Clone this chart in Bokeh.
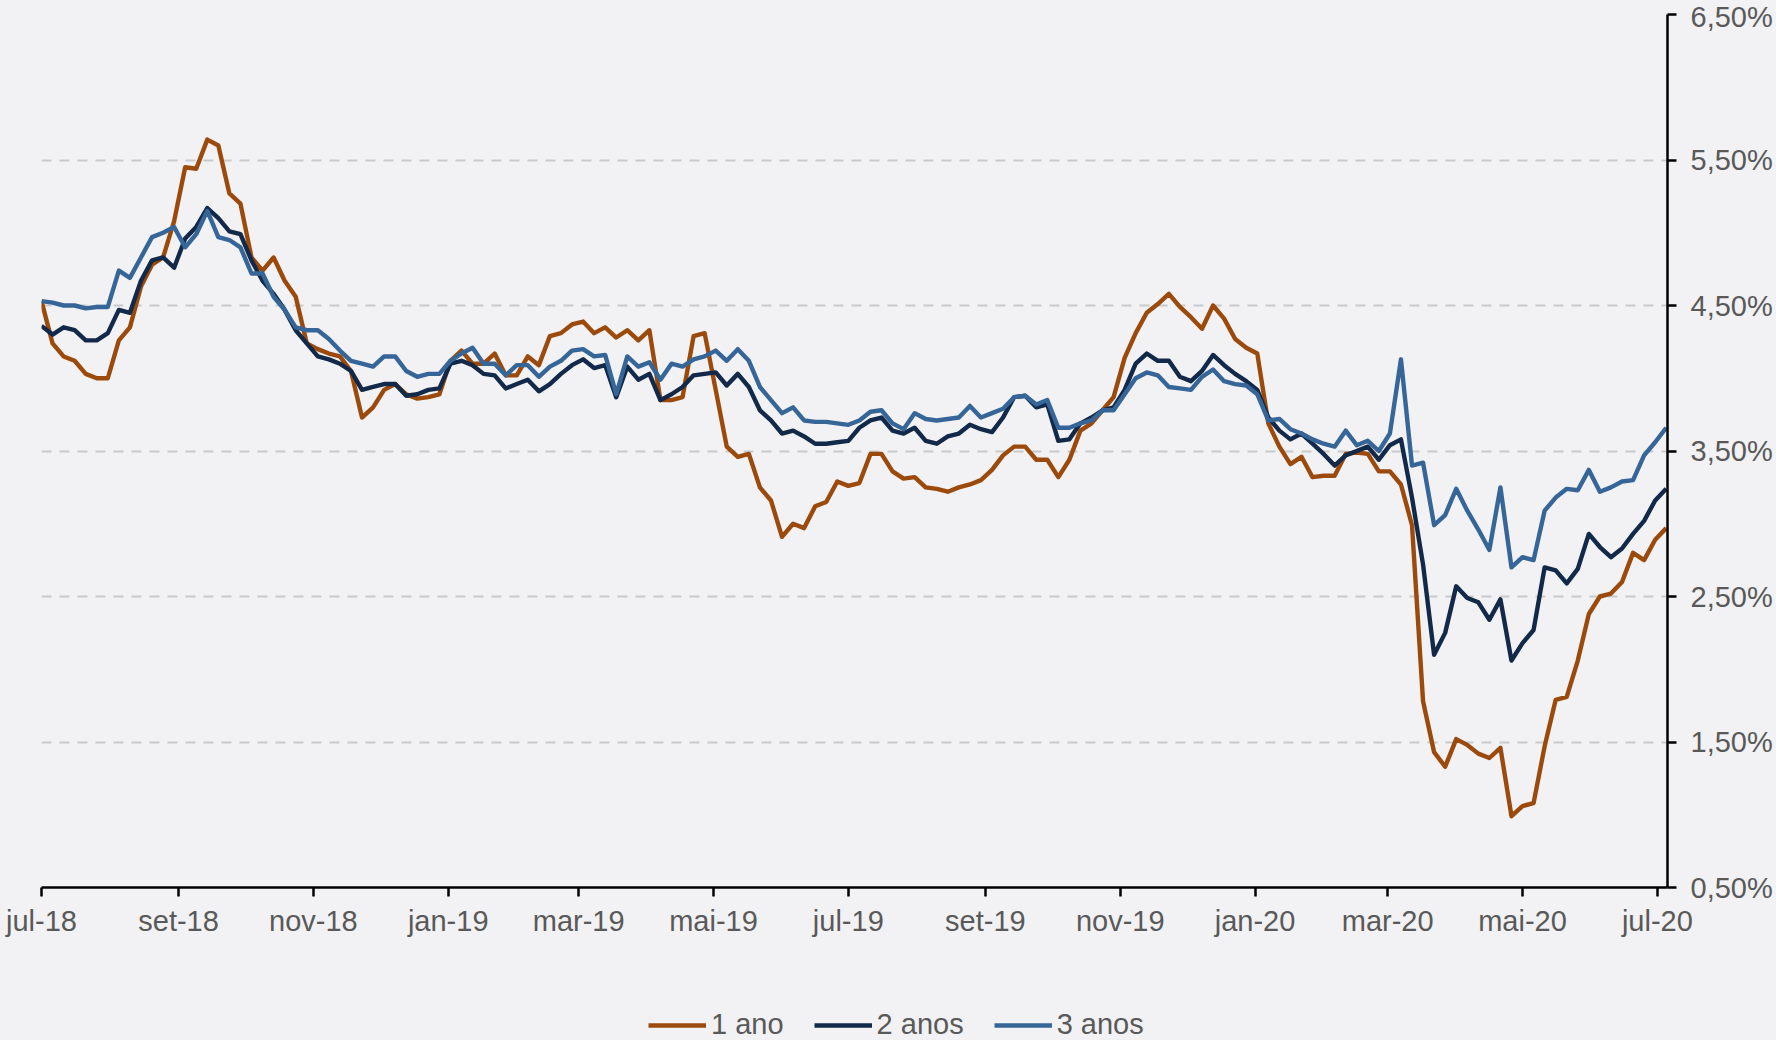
import pandas as pd
from bokeh.plotting import figure
from bokeh.layouts import column
from bokeh.models import Range1d, FixedTicker, Legend, LegendItem, ColumnDataSource
from bokeh.embed import file_html
from bokeh.resources import INLINE

# ---- data (one value every 5 days from 2018-07-01) ----
dates = pd.date_range("2018-07-01", periods=148, freq="5D")

one_year = [4.53, 4.24, 4.15, 4.12, 4.03, 4.00, 4.00, 4.26, 4.35, 4.63,
            4.78, 4.83, 5.08, 5.45, 5.44, 5.64, 5.60, 5.27, 5.20, 4.83,
            4.74, 4.83, 4.67, 4.56, 4.24, 4.20, 4.17, 4.15, 4.05, 3.73,
            3.80, 3.92, 3.96, 3.89, 3.86, 3.87, 3.89, 4.12, 4.19, 4.10,
            4.10, 4.17, 4.02, 4.02, 4.15, 4.09, 4.29, 4.31, 4.37, 4.39,
            4.31, 4.35, 4.28, 4.33, 4.26, 4.33, 3.85, 3.85, 3.87, 4.29,
            4.31, 3.92, 3.53, 3.46, 3.48, 3.25, 3.16, 2.91, 3.00, 2.97,
            3.12, 3.15, 3.29, 3.26, 3.28, 3.48, 3.48, 3.36, 3.31, 3.32,
            3.25, 3.24, 3.22, 3.25, 3.27, 3.30, 3.37, 3.47, 3.53, 3.53,
            3.44, 3.44, 3.32, 3.44, 3.64, 3.69, 3.78, 3.87, 4.14, 4.31,
            4.45, 4.51, 4.58, 4.49, 4.42, 4.34, 4.50, 4.41, 4.27, 4.21,
            4.17, 3.69, 3.53, 3.41, 3.46, 3.32, 3.33, 3.33, 3.48, 3.49,
            3.48, 3.36, 3.36, 3.27, 2.99, 1.78, 1.43, 1.33, 1.52, 1.48,
            1.42, 1.39, 1.46, 0.99, 1.06, 1.08, 1.47, 1.79, 1.81, 2.06,
            2.38, 2.50, 2.52, 2.60, 2.80, 2.75, 2.89, 2.97]

two_years = [4.36, 4.30, 4.35, 4.33, 4.26, 4.26, 4.31, 4.47, 4.45, 4.67,
             4.81, 4.83, 4.76, 4.96, 5.04, 5.17, 5.10, 5.01, 4.99, 4.81,
             4.67, 4.58, 4.47, 4.33, 4.24, 4.15, 4.13, 4.10, 4.05, 3.92,
             3.94, 3.96, 3.96, 3.88, 3.89, 3.92, 3.93, 4.10, 4.12, 4.09,
             4.03, 4.02, 3.93, 3.96, 3.99, 3.91, 3.96, 4.03, 4.09, 4.13,
             4.07, 4.09, 3.87, 4.08, 3.99, 4.03, 3.85, 3.89, 3.94, 4.02,
             4.03, 4.04, 3.95, 4.03, 3.94, 3.78, 3.71, 3.62, 3.64, 3.60,
             3.55, 3.55, 3.56, 3.57, 3.66, 3.71, 3.73, 3.64, 3.62, 3.66,
             3.57, 3.55, 3.60, 3.62, 3.68, 3.65, 3.63, 3.73, 3.87, 3.88,
             3.80, 3.82, 3.57, 3.58, 3.69, 3.73, 3.78, 3.80, 3.92, 4.10,
             4.17, 4.12, 4.12, 4.01, 3.98, 4.05, 4.16, 4.09, 4.03, 3.98,
             3.92, 3.73, 3.64, 3.58, 3.62, 3.55, 3.48, 3.40, 3.47, 3.50,
             3.53, 3.44, 3.54, 3.58, 3.18, 2.72, 2.10, 2.25, 2.57, 2.49,
             2.46, 2.34, 2.48, 2.06, 2.18, 2.27, 2.70, 2.68, 2.59, 2.69,
             2.93, 2.84, 2.77, 2.83, 2.93, 3.02, 3.16, 3.24]

three_years = [4.53, 4.52, 4.50, 4.50, 4.48, 4.49, 4.49, 4.74, 4.69, 4.83,
               4.97, 5.00, 5.04, 4.90, 4.99, 5.15, 4.97, 4.95, 4.90, 4.72,
               4.72, 4.56, 4.47, 4.35, 4.33, 4.33, 4.27, 4.19, 4.12, 4.10,
               4.08, 4.15, 4.15, 4.05, 4.01, 4.03, 4.03, 4.12, 4.17, 4.21,
               4.10, 4.10, 4.02, 4.09, 4.09, 4.01, 4.08, 4.12, 4.19, 4.20,
               4.15, 4.16, 3.89, 4.15, 4.08, 4.11, 3.99, 4.10, 4.08, 4.13,
               4.15, 4.19, 4.12, 4.20, 4.12, 3.94, 3.85, 3.76, 3.80, 3.71,
               3.70, 3.70, 3.69, 3.68, 3.71, 3.77, 3.78, 3.69, 3.65, 3.76,
               3.72, 3.71, 3.72, 3.73, 3.81, 3.73, 3.76, 3.79, 3.87, 3.88,
               3.82, 3.85, 3.66, 3.66, 3.69, 3.71, 3.78, 3.78, 3.89, 4.00,
               4.04, 4.02, 3.94, 3.93, 3.92, 4.01, 4.06, 3.98, 3.96, 3.95,
               3.89, 3.71, 3.72, 3.65, 3.62, 3.58, 3.55, 3.53, 3.64, 3.54,
               3.57, 3.50, 3.62, 4.13, 3.40, 3.42, 2.99, 3.06, 3.24, 3.09,
               2.96, 2.82, 3.25, 2.70, 2.77, 2.75, 3.09, 3.18, 3.24, 3.23,
               3.37, 3.22, 3.25, 3.29, 3.30, 3.47, 3.56, 3.66]

series_names = ["1 ano", "2 anos", "3 anos"]

tick_dates = ["2018-07-01", "2018-09-01", "2018-11-01", "2019-01-01", "2019-03-01",
              "2019-05-01", "2019-07-01", "2019-09-01", "2019-11-01", "2020-01-01",
              "2020-03-01", "2020-05-01", "2020-07-01"]
tick_labels = ["jul-18", "set-18", "nov-18", "jan-19", "mar-19", "mai-19", "jul-19",
               "set-19", "nov-19", "jan-20", "mar-20", "mai-20", "jul-20"]

y_ticks = [0.5, 1.5, 2.5, 3.5, 4.5, 5.5, 6.5]
y_labels = ["0,50%", "1,50%", "2,50%", "3,50%", "4,50%", "5,50%", "6,50%"]

# ---- styling ----
colors = ["#9b4a0c", "#12294a", "#366598"]
FONT = "Liberation Sans"
TXT = "#595959"
FS = "29px"
BG = "#f2f2f4"
LW = 4.4

def ms(d):
    return int(pd.Timestamp(d).value // 10**6)

x_start = ms("2018-07-01")
x_end = ms("2020-07-05 14:00")

MAIN_H = 990
p = figure(width=1776, height=MAIN_H, x_axis_type="datetime", y_axis_location="right",
           x_range=Range1d(x_start, x_end), y_range=Range1d(0.5, 6.5),
           output_backend="svg", toolbar_location=None,
           min_border_left=41, min_border_top=14, min_border_bottom=MAIN_H - 887,
           min_border_right=109)

p.background_fill_color = BG
p.border_fill_color = BG
p.outline_line_color = None

src = ColumnDataSource(dict(date=dates, one=one_year, two=two_years, three=three_years))
keys = ["one", "two", "three"]
for key, col in zip(keys, colors):
    p.line("date", key, source=src, line_color=col, line_width=LW, line_join="round")

# x axis
xt = [ms(d) for d in tick_dates]
xa = p.xaxis[0]
xa.ticker = FixedTicker(ticks=xt)
xa.major_label_overrides = {t: lab for t, lab in zip(xt, tick_labels)}
xa.axis_line_color = "black"
xa.axis_line_width = 2.5
xa.major_tick_line_color = "black"
xa.major_tick_line_width = 2.5
xa.major_tick_out = 9
xa.major_tick_in = 0
xa.minor_tick_line_color = None
xa.major_label_text_font = FONT
xa.major_label_text_font_size = FS
xa.major_label_text_color = TXT
xa.major_label_standoff = 8

# y axis (right)
ya = p.yaxis[0]
ya.ticker = FixedTicker(ticks=y_ticks)
ya.major_label_overrides = {t: lab for t, lab in zip(y_ticks, y_labels)}
ya.axis_line_color = "black"
ya.axis_line_width = 2.5
ya.major_tick_line_color = "black"
ya.major_tick_line_width = 2.5
ya.major_tick_out = 9
ya.major_tick_in = 0
ya.minor_tick_line_color = None
ya.major_label_text_font = FONT
ya.major_label_text_font_size = FS
ya.major_label_text_color = TXT
ya.major_label_standoff = 14

p.xgrid.visible = False
p.ygrid.ticker = FixedTicker(ticks=y_ticks)
p.ygrid.grid_line_color = "#c8c9cc"
p.ygrid.grid_line_width = 2
p.ygrid.grid_line_dash = "10 8"

# ---- legend strip underneath (separate small canvas) ----
# the same series are attached here only to provide the legend keys; the strip's
# ranges do not contain the data, so nothing is drawn in it apart from the legend
lg = figure(width=1776, height=1040 - MAIN_H, x_range=Range1d(0, 1), y_range=Range1d(0, 1),
            output_backend="svg", toolbar_location=None,
            x_axis_location=None, y_axis_location=None,
            min_border=0, min_border_left=0, min_border_right=0,
            min_border_top=0, min_border_bottom=0)
lg.background_fill_color = BG
lg.border_fill_color = BG
lg.outline_line_color = None
lg.grid.visible = False
items = []
for name, key, col in zip(series_names, keys, colors):
    r = lg.line("date", key, source=src, line_color=col, line_width=LW)
    items.append(LegendItem(label=name, renderers=[r]))

legend = Legend(items=items, orientation="horizontal", location=(607, -1),
                glyph_width=58, glyph_height=20, label_standoff=5, spacing=30,
                padding=0, margin=0, border_line_alpha=0, background_fill_alpha=0,
                label_text_font=FONT, label_text_font_size=FS, label_text_color=TXT)
lg.add_layout(legend, "center")

layout = column(p, lg, spacing=0, styles={"background-color": BG})
open("out.html", "w").write(file_html(layout, INLINE))
